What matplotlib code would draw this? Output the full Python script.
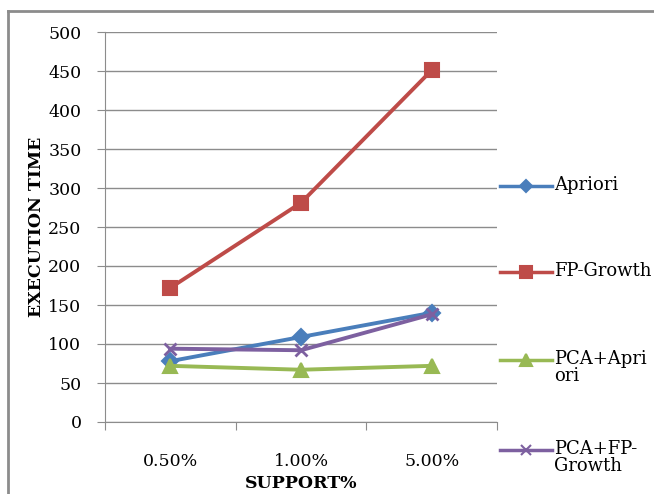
import matplotlib
matplotlib.use("Agg")
import matplotlib.pyplot as plt
from matplotlib.lines import Line2D

categories = ["0.50%", "1.00%", "5.00%"]
apriori = [78, 109, 140]
fp_growth = [172, 281, 451]
pca_apriori = [72, 67, 72]
pca_fp = [94, 92, 138]
yticks = [0, 50, 100, 150, 200, 250, 300, 350, 400, 450, 500]
labels = ["Apriori", "FP-Growth", "PCA+Apri\nori", "PCA+FP-\nGrowth"]

plt.rcParams['font.family'] = ['DejaVu Serif']

W, H = 654, 494
fig = plt.figure(figsize=(W / 100, H / 100), dpi=100)
ax = fig.add_axes([105 / W, 1 - 422 / H, 392 / W, 390 / H])

x = [0.5, 1.5, 2.5]
colors = ["#4A7EBB", "#BE4B48", "#98B954", "#7D60A0"]
markers = ["D", "s", "^", "x"]
msizes = [8, 10, 10, 9]
data = [apriori, fp_growth, pca_apriori, pca_fp]
for vals, col, mk, ms in zip(data, colors, markers, msizes):
    ax.plot(x, vals, color=col, lw=2.8, marker=mk, markersize=ms,
            markeredgewidth=1.5 if mk != "x" else 2, zorder=3)

ax.set_xlim(0, 3)
ax.set_ylim(0, 500)
ax.set_yticks(yticks)
ax.grid(axis='y', color='#8c8c8c', lw=1)
ax.set_axisbelow(True)
ax.set_xticks([0, 1, 2, 3])
ax.set_xticklabels([])
ax.set_xticks(x, minor=True)
ax.set_xticklabels(categories, minor=True)
ax.tick_params(axis='x', which='minor', length=0, pad=22, labelsize=12.5)
ax.tick_params(axis='x', which='major', length=6, color='#8c8c8c')
ax.tick_params(axis='y', length=6, color='#8c8c8c', labelsize=12.5, pad=11)
for s in ['top', 'right']:
    ax.spines[s].set_visible(False)
for s in ['left', 'bottom']:
    ax.spines[s].set_color('#8c8c8c')

ax.set_ylabel("EXECUTION TIME", fontsize=12.5, fontweight='bold', labelpad=2)
ax.set_xlabel("SUPPORT%", fontsize=12.5, fontweight='bold', labelpad=4)

# manual legend (handle aligned with first text line, as in the reference)
leg_y = [186, 272, 360, 450]
for lab, col, mk, ypx in zip(labels, colors, markers, leg_y):
    yf = 1 - ypx / H
    fig.add_artist(Line2D([500 / W, 552 / W], [yf, yf], transform=fig.transFigure,
                          color=col, lw=2.5))
    ms = {"D": 6, "s": 8, "^": 8, "x": 7}[mk]
    fig.add_artist(Line2D([526 / W], [yf], transform=fig.transFigure, color=col,
                          marker=mk, markersize=ms, markeredgewidth=1.5, lw=0))
    fig.text(554 / W, 1 - (ypx - 10) / H, lab, fontsize=13, va='top', ha='left',
             linespacing=0.95)

# frame (only left and top edges are visible in the reference)
fig.add_artist(Line2D([8 / W, 8 / W], [0, 1 - 11 / H], transform=fig.transFigure,
                      color='#8c8c8c', lw=2))
fig.add_artist(Line2D([8 / W, 1], [1 - 11 / H, 1 - 11 / H], transform=fig.transFigure,
                      color='#8c8c8c', lw=2))

fig.savefig("out.png", dpi=100)
